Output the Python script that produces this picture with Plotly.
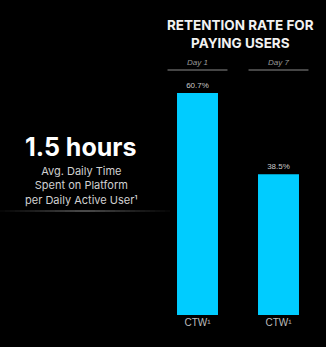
import plotly.graph_objects as go

# Retention data for paying users
periods = ["Day 1", "Day 7"]
retention = [60.7, 38.5]
bar_labels = ["CTW¹", "CTW¹"]

# Headline stat
stat_value = "1.5 hours"
stat_caption = ["Avg. Daily Time", "Spent on Platform", "per Daily Active User¹"]

W, H = 326, 347
x_pos = list(range(len(periods)))

fig = go.Figure()
fig.add_trace(go.Bar(
    x=x_pos,
    y=retention,
    width=0.506,
    marker=dict(color="#00CCFF", line=dict(width=0)),
    text=[f"{v}%" for v in retention],
    textposition="outside",
    textfont=dict(family="Liberation Sans, Arial", size=8, color="#c8c8c8"),
    cliponaxis=False,
    hoverinfo="skip",
))

shapes = []
annotations = []

# Period header over each bar with an underline
for xp, name in zip(x_pos, periods):
    shapes.append(dict(type="line", xref="x", yref="paper",
                       x0=xp - 0.37, x1=xp + 0.37,
                       y0=(H - 70) / H, y1=(H - 70) / H,
                       line=dict(color="#8a8a8a", width=1)))
    annotations.append(dict(xref="x", yref="paper", x=xp, y=(H - 63) / H,
                            text=f"<i>{name}</i>", showarrow=False,
                            font=dict(family="Liberation Sans, Arial", size=8, color="#9a9a9a"),
                            xanchor="center", yanchor="middle"))

# Chart title
annotations.append(dict(xref="paper", yref="paper", x=240 / W, y=(H - 34) / H,
                        text="<b>RETENTION RATE FOR<br>PAYING USERS</b>",
                        showarrow=False, align="center",
                        font=dict(family="Inter, Roboto", size=13.5, color="#f2f2f2"),
                        xanchor="center", yanchor="middle"))

# Headline stat on the left
annotations.append(dict(xref="paper", yref="paper", x=81 / W, y=(H - 147) / H,
                        text=f"<b>{stat_value}</b>", showarrow=False,
                        font=dict(family="Inter, Roboto", size=25, color="#ffffff"),
                        xanchor="center", yanchor="middle"))
annotations.append(dict(xref="paper", yref="paper", x=81 / W, y=(H - 185) / H,
                        text="<br>".join(stat_caption), showarrow=False, align="center",
                        font=dict(family="Inter, Roboto", size=11, color="#d0d0d0"),
                        xanchor="center", yanchor="middle"))

# Fading divider under the headline stat
n_seg = 34
for i in range(n_seg):
    x0 = i * 170 / n_seg
    x1 = (i + 1) * 170 / n_seg
    mid = (x0 + x1) / 2
    alpha = max(0.08, 1 - abs(mid - 85) / 95) ** 1.2
    shapes.append(dict(type="line", xref="paper", yref="paper",
                       x0=x0 / W, x1=x1 / W, y0=(H - 211) / H, y1=(H - 211) / H,
                       line=dict(color=f"rgba(200,200,200,{alpha * 0.75:.3f})", width=1)))

fig.update_layout(
    width=W, height=H,
    margin=dict(l=0, r=0, t=0, b=0),
    paper_bgcolor="black",
    plot_bgcolor="black",
    showlegend=False,
    shapes=shapes,
    annotations=annotations,
    xaxis=dict(domain=[157 / W, 319 / W], range=[-0.5, 1.5],
               tickvals=x_pos, ticktext=bar_labels,
               tickfont=dict(family="Liberation Sans, Arial", size=10, color="#bdbdbd"),
               showgrid=False, zeroline=False, showline=False, ticks=""),
    yaxis=dict(domain=[32 / H, 288 / H], range=[0, 70],
               visible=False, showgrid=False, zeroline=False),
)

fig.write_html("out.html")
